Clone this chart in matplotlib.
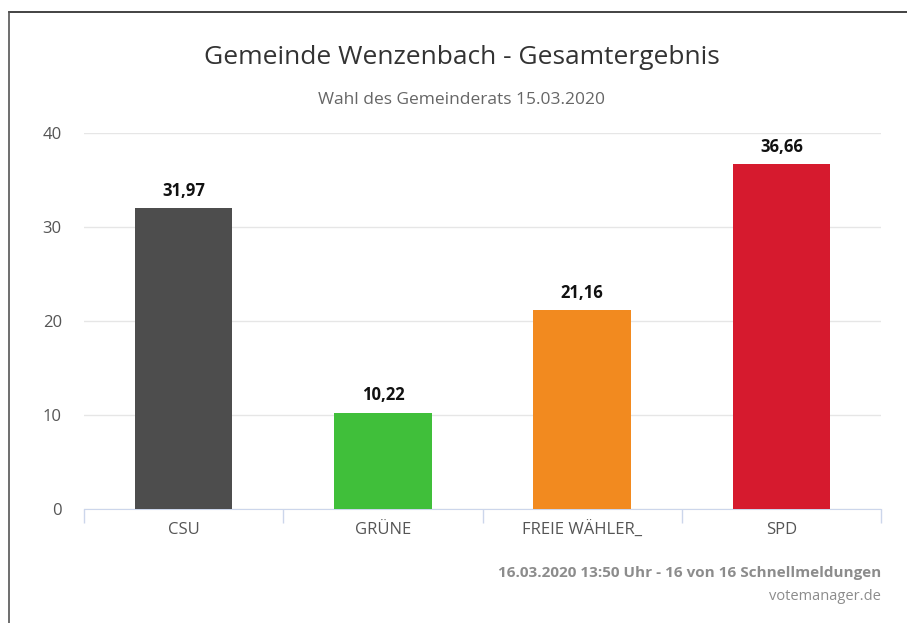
import matplotlib.pyplot as plt

# ============================================================
# DATEN
# ============================================================

PARTEIEN = ["CSU", "GRÜNE", "FREIE WÄHLER_", "SPD"]
WERTE = [31.97, 10.22, 21.16, 36.66]
FARBEN = ["#4d4d4d", "#40bf3a", "#f28a1f", "#d61a2e"]
Y_TICKS = [0, 10, 20, 30, 40]

TITEL = "Gemeinde Wenzenbach - Gesamtergebnis"
UNTERTITEL = "Wahl des Gemeinderats 15.03.2020"
FUSSZEILE_1 = "16.03.2020 13:50 Uhr - 16 von 16 Schnellmeldungen"
FUSSZEILE_2 = "votemanager.de"

plt.rcParams["font.family"] = ["Open Sans", "DejaVu Sans"]

# ============================================================
# FIGUR
# ============================================================

fig = plt.figure(figsize=(9.07, 6.23), dpi=100)
ax = fig.add_axes([84 / 907, 1 - 509 / 623, (881 - 84) / 907, (509 - 133) / 623])

x = list(range(len(PARTEIEN)))
bars = ax.bar(x, WERTE, width=0.49, color=FARBEN, zorder=3)

for xi, v in zip(x, WERTE):
    ax.text(xi, v + 0.9, f"{v:.2f}".replace(".", ","), ha="center", va="bottom",
            fontsize=12, fontweight="bold", color="#111111")

ax.set_xlim(-0.5, len(PARTEIEN) - 0.5)
ax.set_ylim(0, 40)
ax.set_yticks(Y_TICKS)
ax.set_yticklabels([str(t) for t in Y_TICKS])
ax.grid(axis="y", color="#e6e6e6", linewidth=1, zorder=0)

for s in ["top", "right", "left"]:
    ax.spines[s].set_visible(False)
ax.spines["bottom"].set_color("#ccd6eb")

ax.set_xticks(x)
ax.set_xticklabels(PARTEIEN)
ax.set_xticks([i - 0.5 for i in range(len(PARTEIEN) + 1)], minor=True)
ax.tick_params(axis="x", which="major", length=0, pad=9, labelsize=12, labelcolor="#555555")
ax.tick_params(axis="x", which="minor", length=10, color="#ccd6eb", width=1)
ax.tick_params(axis="y", length=0, pad=16, labelsize=12, labelcolor="#555555")

# Titel
fig.text(462 / 907, 1 - 58 / 623, TITEL, ha="center", va="center", fontsize=19, color="#333333")
fig.text(461 / 907, 1 - 100 / 623, UNTERTITEL, ha="center", va="center", fontsize=12.5, color="#666666")

# Fusszeile
fig.text(881 / 907, 1 - 573 / 623, FUSSZEILE_1, ha="right", va="center", fontsize=11,
         color="#8c8c8c", fontweight="bold")
fig.text(881 / 907, 1 - 597 / 623, FUSSZEILE_2, ha="right", va="center", fontsize=10.5,
         color="#8c8c8c")

# Rahmen oben / links
fig.add_artist(plt.Line2D([9 / 907, 1], [1 - 12 / 623, 1 - 12 / 623], color="#222222", linewidth=1.2))
fig.add_artist(plt.Line2D([9 / 907, 9 / 907], [0, 1 - 12 / 623], color="#555555", linewidth=1.2))

fig.savefig("out.png", dpi=100)
